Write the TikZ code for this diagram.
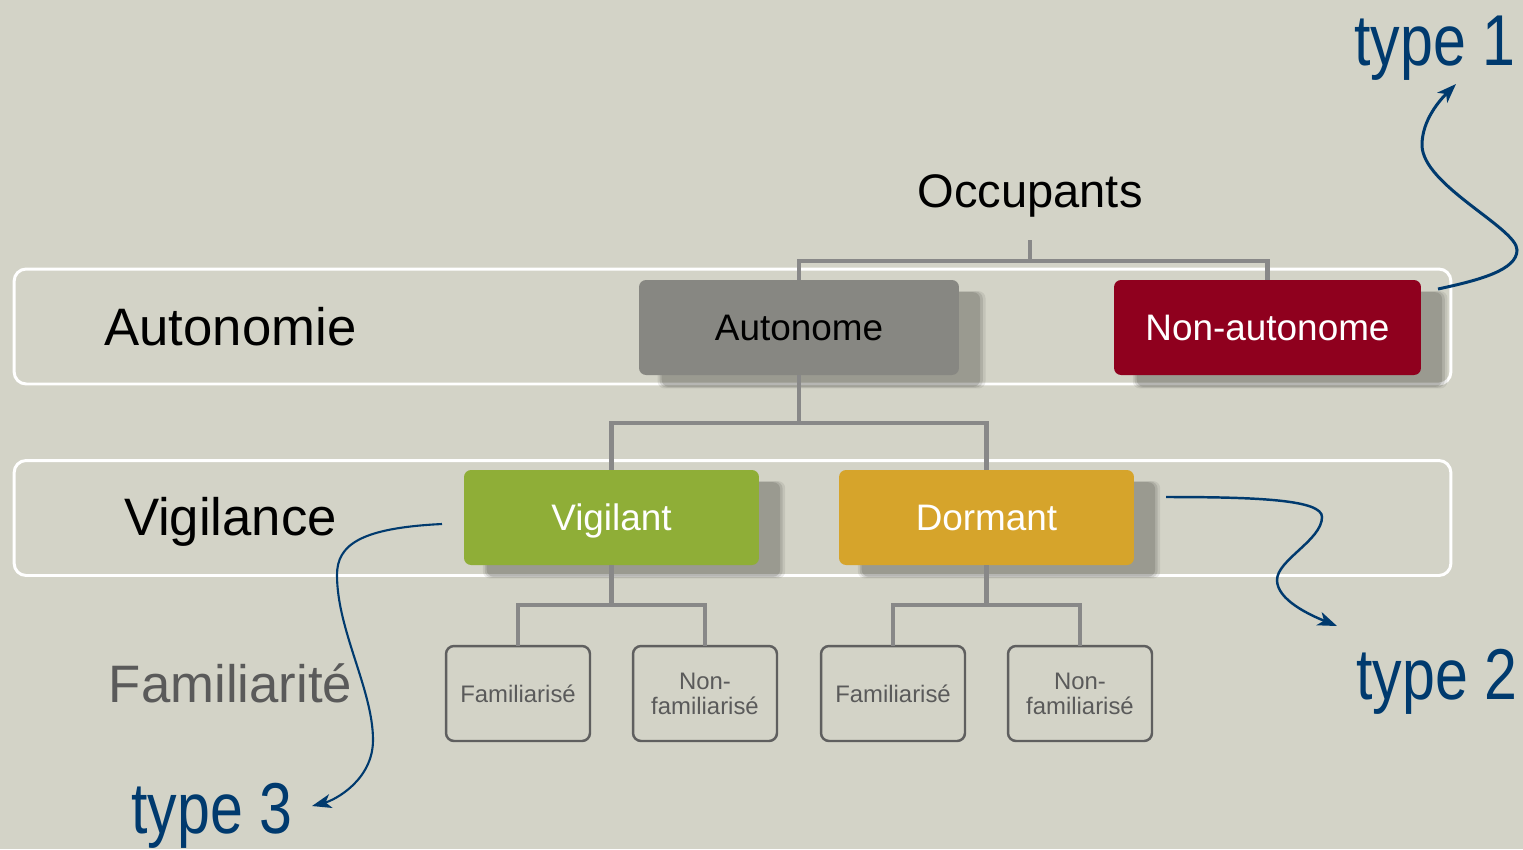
\documentclass[tikz,border=0pt]{standalone}
\usepackage{fontspec}
\setmainfont{Liberation Sans}
\newfontfamily\narrowfont{Liberation Sans}[FakeStretch=0.82]
\usetikzlibrary{shadows,arrows.meta}
\definecolor{bgc}{RGB}{211,211,199}
\definecolor{connc}{RGB}{136,136,136}
\definecolor{autoc}{RGB}{135,135,130}
\definecolor{nonautoc}{RGB}{143,0,30}
\definecolor{vigc}{RGB}{143,174,55}
\definecolor{dorc}{RGB}{214,164,43}
\definecolor{smallc}{RGB}{95,95,95}
\definecolor{famc}{RGB}{90,90,90}
\definecolor{typec}{RGB}{0,58,110}
\definecolor{shadc}{RGB}{60,60,52}
\tikzset{
  band/.style={draw=white, line width=1.7pt, rounded corners=0.24cm, minimum width=28.74cm, minimum height=2.3cm, inner sep=0pt, outer sep=0pt},
  softshadow/.style={
     general shadow={shadow xshift=0.44cm, shadow yshift=-0.24cm, shadow scale=1.025, fill=shadc, opacity=0.10},
     general shadow={shadow xshift=0.44cm, shadow yshift=-0.24cm, shadow scale=1.01, fill=shadc, opacity=0.14},
     general shadow={shadow xshift=0.44cm, shadow yshift=-0.24cm, shadow scale=0.995, fill=shadc, opacity=0.18}},
  bigbox/.style={rounded corners=0.14cm, minimum height=1.9cm, inner sep=0pt, outer sep=0pt,
     font=\fontsize{21}{25}\selectfont, text height=15pt, text depth=0pt, softshadow},
  smallbox/.style={draw=smallc, line width=1.4pt, rounded corners=0.16cm, minimum width=2.88cm, minimum height=1.9cm, inner sep=0pt, outer sep=0pt,
     text=famc, align=center, font=\fontsize{13.6}{14.2}\selectfont},
  conn/.style={draw=connc, line width=2.8pt},
  rowlabel/.style={font=\fontsize{30}{36}\selectfont, anchor=base},
  typelabel/.style={font=\narrowfont\fontsize{41}{48}\selectfont, text=typec, anchor=base},
  typearrow/.style={draw=typec, -{Stealth[length=11pt,width=8pt,inset=3pt]}},
}
\begin{document}
\begin{tikzpicture}[x=0.02cm,y=-0.02cm]
\useasboundingbox (0,0) rectangle (1523,849);
\fill[bgc] (0,0) rectangle (1523,849);

% bands
\node[band] (band1) at (732.5,326.5) {};
\node[band] (band2) at (732.5,518) {};

% row labels
\node[rowlabel] (lauto) at (230.5,345) {Autonomie};
\node[rowlabel] (lvig) at (230.5,535) {Vigilance};
\node[rowlabel, text=famc] (lfam) at (230.5,702) {Familiarité};
\node[font=\fontsize{26.8}{32}\selectfont, anchor=base] (occ) at (1030,207) {Occupants};

% connector junctions
\coordinate (occbot) at (1030,240);
\coordinate (occj) at (1030,261);
\coordinate (aj) at (799,423);
\coordinate (vj) at (611.5,605);
\coordinate (dj) at (986.5,605);

\node[bigbox, fill=autoc, minimum width=6.4cm] (auto) at (799,327.5) {Autonome};
\node[bigbox, fill=nonautoc, text=white, minimum width=6.14cm] (nonauto) at (1267.5,327.5) {Non-autonome};
\node[bigbox, fill=vigc, text=white, minimum width=5.9cm] (vig) at (611.5,517.5) {Vigilant};
\node[bigbox, fill=dorc, text=white, minimum width=5.9cm] (dor) at (986.5,517.5) {Dormant};

\node[smallbox] (f1) at (518,693.5) {Familiarisé};
\node[smallbox] (n1) at (705,693.5) {Non-\\familiarisé};
\node[smallbox] (f2) at (893,693.5) {Familiarisé};
\node[smallbox] (n2) at (1080,693.5) {Non-\\familiarisé};

% connectors
\draw[conn] (occbot) -- (occj);
\draw[conn] (occj) -| (auto.north);
\draw[conn] (occj) -| (nonauto.north);
\draw[conn] (auto.south) -- (aj);
\draw[conn] (aj) -| (vig.north);
\draw[conn] (aj) -| (dor.north);
\draw[conn] (vig.south) -- (vj);
\draw[conn] (vj) -| (f1.north);
\draw[conn] (vj) -| (n1.north);
\draw[conn] (dor.south) -- (dj);
\draw[conn] (dj) -| (f2.north);
\draw[conn] (dj) -| (n2.north);

% type labels
\node[typelabel] (t1) at (1435,65) {type 1};
\node[typelabel] (t2) at (1437,699) {type 2};
\node[typelabel] (t3) at (212,833) {type 3};

% type arrows
\coordinate (s1) at (1438,289);
\coordinate (e1) at (1456,84);
\draw[typearrow, line width=1.7pt] (s1) .. controls (1480,280) and (1517,270) .. (1517,250)
   .. controls (1517,228) and (1422,185) .. (1422,145)
   .. controls (1422,120) and (1440,100) .. (e1);
\coordinate (s2) at (1166,497);
\coordinate (e2) at (1337,626);
\draw[typearrow, line width=1.4pt] (s2) .. controls (1260,497) and (1322,500) .. (1322,517)
   .. controls (1322,540) and (1277,560) .. (1277,580)
   .. controls (1277,600) and (1310,615) .. (e2);
\coordinate (s3) at (442,524);
\coordinate (e3) at (312,806);
\draw[typearrow, line width=1.2pt] (s3) .. controls (360,528) and (337,545) .. (337,575)
   .. controls (337,630) and (373,690) .. (373,740)
   .. controls (373,780) and (335,800) .. (e3);
\end{tikzpicture}
\end{document}
